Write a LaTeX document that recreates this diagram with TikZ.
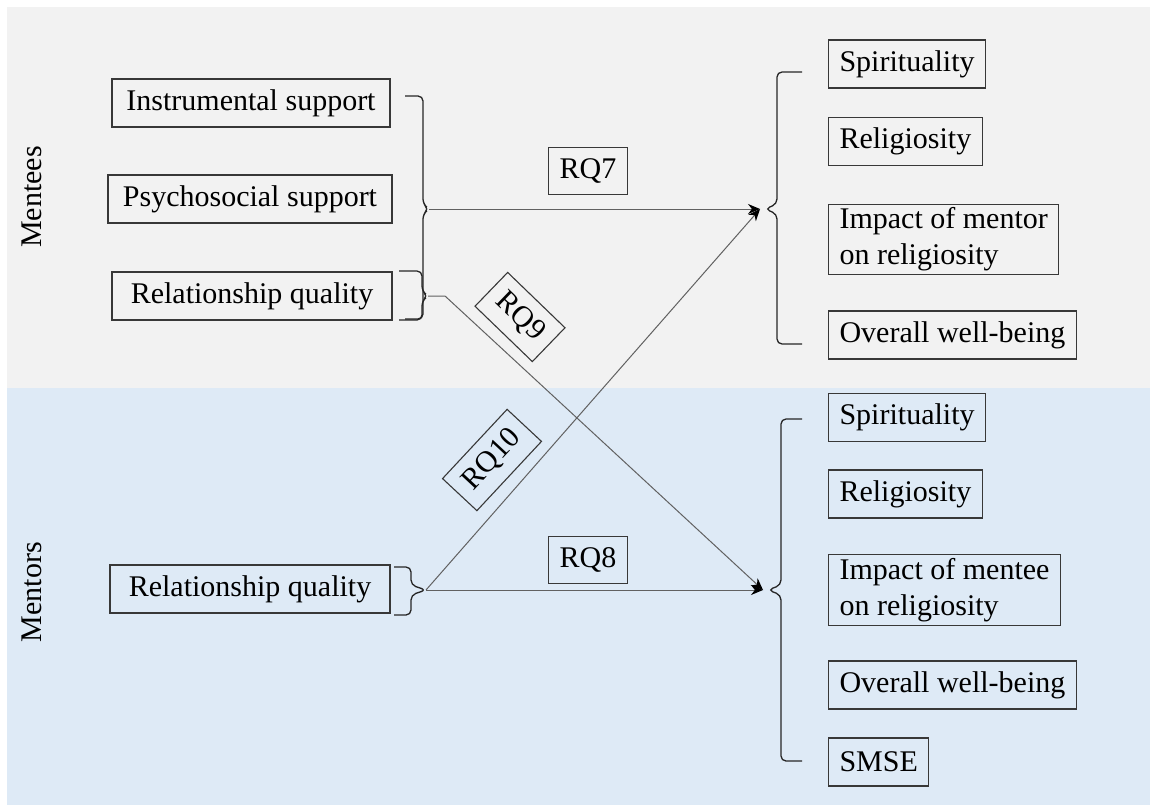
\documentclass[tikz,border=0pt]{standalone}
\usepackage{fontspec}
\setmainfont{Liberation Serif}
\usetikzlibrary{arrows.meta}
\definecolor{menteebg}{RGB}{242,242,242}
\definecolor{mentorbg}{RGB}{222,234,246}
\tikzset{
  varbox/.style={draw=black!78, line width=1.1pt, inner xsep=11pt, minimum height=48pt, align=left},
  rqbox/.style={draw=black!78, line width=1.1pt, inner xsep=11.5pt, minimum height=47pt},
  bracket/.style={draw=black!85, line width=1.3pt, rounded corners=5pt},
  link/.style={draw=black!62, line width=1pt},
}
\begin{document}
\begin{tikzpicture}[x=1pt, y=-1pt, >={Stealth[length=12pt,width=10pt,black]}, font=\fontsize{30}{36}\selectfont]
  \useasboundingbox (0,0) rectangle (1150,805);
  % 背景
  \fill[menteebg] (7,7) rectangle (1150,388);
  \fill[mentorbg] (7,388) rectangle (1150,805);
  \node[rotate=90] (mentees) at (32,197) {Mentees};
  \node[rotate=90] (mentors) at (32,592) {Mentors};

  % 左侧变量
  \node[varbox, minimum width=278pt] (instr) at (251,103) {Instrumental support};
  \node[varbox, minimum width=284pt] (psych) at (250,199) {Psychosocial support};
  \node[varbox, minimum width=280pt] (rqmentee) at (252,296) {Relationship quality};
  \node[varbox, minimum width=280pt] (rqmentor) at (250,589) {Relationship quality};

  % 右侧结果
  \foreach \nm/\yy/\txt in {spA/64/Spirituality, relA/141.5/Religiosity,
      impA/239.5/{Impact of mentor\\on religiosity}, wbA/335/Overall well-being,
      spB/417.5/Spirituality, relB/494/Religiosity,
      impB/590/{Impact of mentee\\on religiosity}, wbB/685/Overall well-being,
      smse/762/SMSE}{
    \node[varbox, anchor=west] (\nm) at (828,\yy) {\txt};
  }

  % 括号
  \coordinate (mL) at (429,209);
  \coordinate (qL) at (428,296);
  \coordinate (qbend) at (445,296);
  \coordinate (tL) at (426,590);
  \coordinate (mR) at (760,209);
  \coordinate (tR) at (763,590);
  \draw[bracket] (405,96) -- (423,96) -- (423,204) -- (mL) -- (423,214) -- (423,319) -- (405,319);
  \draw[bracket] (399,271) -- (422,271) -- (422,291) -- (qL) -- (422,301) -- (422,320) -- (399,320);
  \draw[bracket] (394,567) -- (411,567) -- (411,585) -- (tL) -- (411,595) -- (411,615) -- (394,615);
  \draw[bracket] (802,72) -- (777,72) -- (777,204) -- (765,209) -- (777,214) -- (777,344) -- (802,344);
  \draw[bracket] (802,419) -- (781,419) -- (781,585) -- (768,590) -- (781,595) -- (781,761) -- (802,761);

  % 研究问题
  \draw[link,->] (mL) -- (mR);
  \draw[link,->] (qL) -- (qbend) -- (tR);
  \draw[link,->] (tL) -- (mR);
  \draw[link,->] (tL) -- (tR);
  \node[rqbox] (rq7) at (588,171) {RQ7};
  \node[rqbox] (rq8) at (588,560) {RQ8};
  \node[rqbox, rotate=-44] (rq9) at (520,317) {RQ9};
  \node[rqbox, rotate=47] (rq10) at (492,460) {RQ10};
\end{tikzpicture}
\end{document}
